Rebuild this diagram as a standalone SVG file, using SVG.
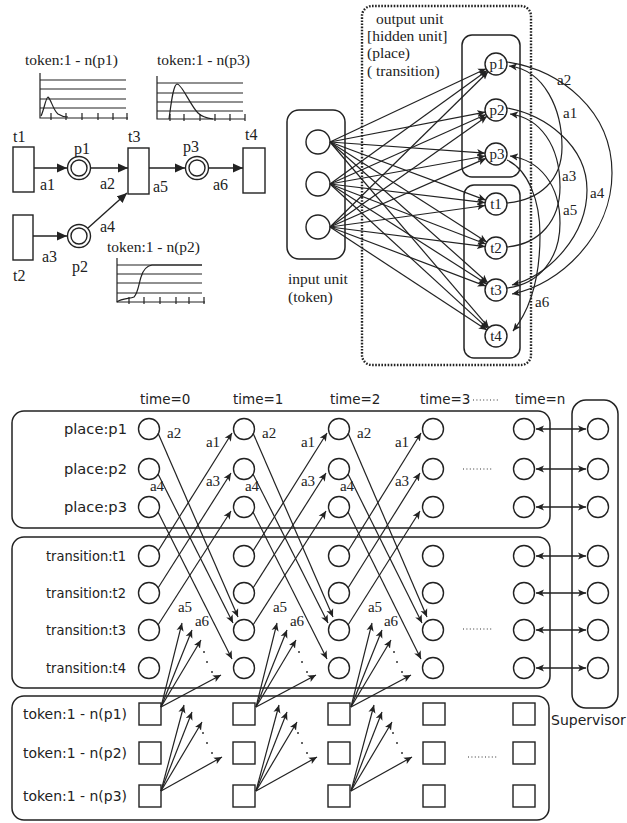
<svg xmlns="http://www.w3.org/2000/svg" width="627" height="823" viewBox="0 0 627 823">
<defs>
<style>
.ln{fill:none;stroke:#222;stroke-width:1.3}
.bx{fill:none;stroke:#222;stroke-width:1.5}
.nd{fill:#fff;stroke:#222;stroke-width:1.4}
.dt{fill:none;stroke:#222;stroke-width:2.4;stroke-dasharray:1.6 1.5}
.ld{fill:none;stroke:#333;stroke-width:1.2;stroke-dasharray:1 2.4}
.sf{font-family:"Liberation Serif","DejaVu Serif",serif;fill:#222}
.ss{font-family:"DejaVu Sans","Liberation Sans",sans-serif;fill:#222}
.ch{fill:none;stroke:#222;stroke-width:1.2}
.ar{fill:none;stroke:#222;stroke-width:1.2;marker-end:url(#ah)}
.arL{fill:none;stroke:#222;stroke-width:1.4;marker-end:url(#ahL)}
.ar2{fill:none;stroke:#222;stroke-width:1.3;marker-start:url(#ahS);marker-end:url(#ah)}
</style>
<marker id="ah" viewBox="0 0 10 10" refX="10" refY="5" markerWidth="8" markerHeight="8" markerUnits="userSpaceOnUse" orient="auto"><path d="M0,0.5 L10,5 L0,9.5 L2.5,5 z" fill="#222"/></marker>
<marker id="ahS" viewBox="0 0 10 10" refX="10" refY="5" markerWidth="8" markerHeight="8" markerUnits="userSpaceOnUse" orient="auto-start-reverse"><path d="M0,0.5 L10,5 L0,9.5 L2.5,5 z" fill="#222"/></marker>
<marker id="ahL" viewBox="0 0 10 10" refX="10" refY="5" markerWidth="10" markerHeight="10" markerUnits="userSpaceOnUse" orient="auto"><path d="M0,0.5 L10,5 L0,9.5 z" fill="#222"/></marker>
</defs>
<rect x="0" y="0" width="627" height="823" fill="#fff"/>

<!-- ===== Top-left: Petri net ===== -->
<g id="chart-p1">
<text class="sf" x="25" y="65" font-size="15.5">token:1 - n(p1)</text>
<path class="ch" d="M40,73 V118 H128 M40,80 H126 M40,89 H126 M40,99 H126 M40,108 H126 M51,113 V120 M66,113 V120 M82,113 V120 M98,113 V120 M113,113 V120 M127,113 V120"/>
<path class="ch" stroke-width="1.5" d="M41,116 C44,110 46,97 48,97 C51,99 53,110 58,114 C61,116 64,117 68,117"/>
</g>
<g id="chart-p3">
<text class="sf" x="157" y="65" font-size="15.5">token:1 - n(p3)</text>
<path class="ch" d="M157,76 V119 H245 M157,83 H243 M157,93 H243 M157,102 H243 M157,111 H243 M170,114 V121 M184,114 V121 M200,114 V121 M215,114 V121 M230,114 V121 M245,114 V121"/>
<path class="ch" stroke-width="1.5" d="M169,119 C171,105 173,85 177,84 C182,84 190,105 198,113 C202,117 206,118 213,119"/>
</g>
<g id="chart-p2">
<text class="sf" x="107" y="252" font-size="15.5">token:1 - n(p2)</text>
<path class="ch" d="M117,258 V302 H205 M117,265 H202 M117,274 H202 M117,283 H202 M117,293 H202 M129,297 V304 M144,297 V304 M160,297 V304 M176,297 V304 M189,297 V304 M204,297 V304"/>
<path class="ch" stroke-width="1.5" d="M117,302 C122,298 130,299 134,297 C138,293 139,283 141,277 C143,270 146,266 152,265 L202,265"/>
</g>
<g id="pn-t1"><text class="sf" x="13" y="142" font-size="16">t1</text><rect class="nd" x="13" y="147" width="21" height="45"/></g>
<g id="pn-p1"><text class="sf" x="74" y="154" font-size="16">p1</text><circle class="nd" cx="79" cy="168" r="11.5"/><circle class="nd" cx="79" cy="168" r="8"/></g>
<g id="pn-t3"><text class="sf" x="128" y="142" font-size="16">t3</text><rect class="nd" x="128" y="148" width="21" height="46"/></g>
<g id="pn-p3"><text class="sf" x="183" y="152" font-size="16">p3</text><circle class="nd" cx="197" cy="168" r="11.5"/><circle class="nd" cx="197" cy="168" r="8"/></g>
<g id="pn-t4"><text class="sf" x="245" y="140" font-size="16">t4</text><rect class="nd" x="243" y="148" width="22" height="45"/></g>
<g id="pn-t2"><rect class="nd" x="13" y="215" width="20" height="45"/><text class="sf" x="13" y="281" font-size="16">t2</text></g>
<g id="pn-p2"><circle class="nd" cx="79" cy="236" r="11.5"/><circle class="nd" cx="79" cy="236" r="8"/><text class="sf" x="72" y="272" font-size="16">p2</text></g>

<!-- ===== Top-right: neural network ===== -->
<g id="nn-output-unit">
<rect class="dt" x="362" y="6" width="169" height="359" rx="10"/>
<text class="sf" font-size="15.5"><tspan x="376" y="24">output unit</tspan><tspan x="367" y="41">[hidden unit]</tspan><tspan x="367" y="58">(place)</tspan><tspan x="367" y="76">( transition)</tspan></text>
</g>
<g id="nn-input-unit">
<rect class="bx" x="287" y="110" width="58" height="149" rx="12"/>
<circle class="nd" cx="318" cy="142" r="12"/>
<circle class="nd" cx="318" cy="184" r="12"/>
<circle class="nd" cx="318" cy="227" r="12"/>
<text class="sf" font-size="15.5"><tspan x="288" y="284">input unit</tspan><tspan x="288" y="302">(token)</tspan></text>
</g>
<g id="nn-places">
<rect class="bx" x="462" y="35" width="58" height="142" rx="10"/>
<g id="nn-p1"><circle class="nd" cx="496" cy="64" r="11"/><text class="sf" x="497" y="69" font-size="15" text-anchor="middle">p1</text></g>
<g id="nn-p2"><circle class="nd" cx="496" cy="110" r="11"/><text class="sf" x="497" y="115" font-size="15" text-anchor="middle">p2</text></g>
<g id="nn-p3"><circle class="nd" cx="496" cy="154" r="11"/><text class="sf" x="497" y="159" font-size="15" text-anchor="middle">p3</text></g>
</g>
<g id="nn-transitions">
<rect class="bx" x="464" y="185" width="56" height="173" rx="10"/>
<g id="nn-t1"><circle class="nd" cx="496" cy="204" r="11"/><text class="sf" x="496" y="209" font-size="15" text-anchor="middle">t1</text></g>
<g id="nn-t2"><circle class="nd" cx="496" cy="248" r="11"/><text class="sf" x="496" y="253" font-size="15" text-anchor="middle">t2</text></g>
<g id="nn-t3"><circle class="nd" cx="496" cy="290" r="11"/><text class="sf" x="496" y="295" font-size="15" text-anchor="middle">t3</text></g>
<g id="nn-t4"><circle class="nd" cx="496" cy="336" r="11"/><text class="sf" x="496" y="341" font-size="15" text-anchor="middle">t4</text></g>
</g>

<!-- ===== Bottom: unrolled network ===== -->
<g id="time-labels" class="ss" font-size="13.5">
<text x="140" y="404">time=0</text>
<text x="233" y="404">time=1</text>
<text x="330" y="404">time=2</text>
<text x="420" y="404">time=3</text>
<text x="515" y="404">time=n</text>
</g>
<path class="ld" d="M473,400 H500"/>
<g id="places-box">
<rect class="bx" x="12" y="411" width="538" height="117" rx="12"/>
<text class="ss" font-size="14" text-anchor="end" x="127" y="434" textLength="63" lengthAdjust="spacingAndGlyphs">place:p1</text>
<text class="ss" font-size="14" text-anchor="end" x="127" y="474" textLength="63" lengthAdjust="spacingAndGlyphs">place:p2</text>
<text class="ss" font-size="14" text-anchor="end" x="127" y="512" textLength="63" lengthAdjust="spacingAndGlyphs">place:p3</text>
</g>
<g id="transitions-box">
<rect class="bx" x="12" y="537" width="538" height="151" rx="12"/>
<text class="ss" font-size="14" text-anchor="end" x="126" y="561" textLength="80" lengthAdjust="spacingAndGlyphs">transition:t1</text>
<text class="ss" font-size="14" text-anchor="end" x="126" y="598" textLength="80" lengthAdjust="spacingAndGlyphs">transition:t2</text>
<text class="ss" font-size="14" text-anchor="end" x="126" y="635" textLength="80" lengthAdjust="spacingAndGlyphs">transition:t3</text>
<text class="ss" font-size="14" text-anchor="end" x="126" y="673" textLength="80" lengthAdjust="spacingAndGlyphs">transition:t4</text>
</g>
<g id="tokens-box">
<rect class="bx" x="12" y="696" width="537" height="124" rx="12"/>
<text class="ss" font-size="14" text-anchor="end" x="127" y="719" textLength="104" lengthAdjust="spacingAndGlyphs">token:1 - n(p1)</text>
<text class="ss" font-size="14" text-anchor="end" x="127" y="758" textLength="104" lengthAdjust="spacingAndGlyphs">token:1 - n(p2)</text>
<text class="ss" font-size="14" text-anchor="end" x="127" y="801" textLength="104" lengthAdjust="spacingAndGlyphs">token:1 - n(p3)</text>
</g>
<g id="supervisor">
<rect class="bx" x="572" y="400" width="46" height="308" rx="14"/>
<circle class="nd" cx="598" cy="429" r="10.5"/><circle class="nd" cx="598" cy="469" r="10.5"/><circle class="nd" cx="598" cy="507" r="10.5"/>
<circle class="nd" cx="598" cy="556" r="10.5"/><circle class="nd" cx="598" cy="593" r="10.5"/><circle class="nd" cx="598" cy="630" r="10.5"/><circle class="nd" cx="598" cy="668" r="10.5"/>
<text class="ss" x="551" y="725" font-size="14">Supervisor</text>
</g>
<g id="col-0">
<circle class="nd" cx="149" cy="429" r="10.5"/><circle class="nd" cx="149" cy="469" r="10.5"/><circle class="nd" cx="149" cy="507" r="10.5"/>
<circle class="nd" cx="149" cy="556" r="10.5"/><circle class="nd" cx="149" cy="593" r="10.5"/><circle class="nd" cx="149" cy="630" r="10.5"/><circle class="nd" cx="149" cy="668" r="10.5"/>
<rect class="nd" x="139" y="703" width="22" height="22"/><rect class="nd" x="139" y="742" width="22" height="22"/><rect class="nd" x="139" y="785" width="22" height="22"/>
</g>
<g id="col-1">
<circle class="nd" cx="244" cy="429" r="10.5"/><circle class="nd" cx="244" cy="469" r="10.5"/><circle class="nd" cx="244" cy="507" r="10.5"/>
<circle class="nd" cx="244" cy="556" r="10.5"/><circle class="nd" cx="244" cy="593" r="10.5"/><circle class="nd" cx="244" cy="630" r="10.5"/><circle class="nd" cx="244" cy="668" r="10.5"/>
<rect class="nd" x="233" y="703" width="22" height="22"/><rect class="nd" x="233" y="742" width="22" height="22"/><rect class="nd" x="233" y="785" width="22" height="22"/>
</g>
<g id="col-2">
<circle class="nd" cx="339" cy="429" r="10.5"/><circle class="nd" cx="339" cy="469" r="10.5"/><circle class="nd" cx="339" cy="507" r="10.5"/>
<circle class="nd" cx="339" cy="556" r="10.5"/><circle class="nd" cx="339" cy="593" r="10.5"/><circle class="nd" cx="339" cy="630" r="10.5"/><circle class="nd" cx="339" cy="668" r="10.5"/>
<rect class="nd" x="328" y="703" width="22" height="22"/><rect class="nd" x="328" y="742" width="22" height="22"/><rect class="nd" x="328" y="785" width="22" height="22"/>
</g>
<g id="col-3">
<circle class="nd" cx="433" cy="429" r="10.5"/><circle class="nd" cx="433" cy="469" r="10.5"/><circle class="nd" cx="433" cy="507" r="10.5"/>
<circle class="nd" cx="433" cy="556" r="10.5"/><circle class="nd" cx="433" cy="593" r="10.5"/><circle class="nd" cx="433" cy="630" r="10.5"/><circle class="nd" cx="433" cy="668" r="10.5"/>
<rect class="nd" x="423" y="703" width="22" height="22"/><rect class="nd" x="423" y="742" width="22" height="22"/><rect class="nd" x="423" y="785" width="22" height="22"/>
</g>
<g id="col-n">
<circle class="nd" cx="524" cy="429" r="10.5"/><circle class="nd" cx="524" cy="469" r="10.5"/><circle class="nd" cx="524" cy="507" r="10.5"/>
<circle class="nd" cx="524" cy="556" r="10.5"/><circle class="nd" cx="524" cy="593" r="10.5"/><circle class="nd" cx="524" cy="630" r="10.5"/><circle class="nd" cx="524" cy="668" r="10.5"/>
<rect class="nd" x="513" y="703" width="22" height="22"/><rect class="nd" x="513" y="742" width="22" height="22"/><rect class="nd" x="513" y="785" width="22" height="22"/>
</g>
<path class="ld" d="M463,469 H493 M463,629 H493 M468,757 H498"/>

<!-- ===== Connectors ===== -->
<g id="connectors">
<!-- Petri net arcs -->
<line class="arL" x1="34" y1="168" x2="67" y2="168"/>
<line class="arL" x1="91" y1="168" x2="128" y2="168"/>
<line class="arL" x1="149" y1="168" x2="185" y2="168"/>
<line class="arL" x1="209" y1="168" x2="243" y2="168"/>
<line class="arL" x1="33" y1="236" x2="67" y2="236"/>
<line class="arL" x1="88" y1="228" x2="127" y2="193"/>
<g class="sf" font-size="16">
<text x="40" y="190">a1</text><text x="100" y="189">a2</text><text x="42" y="262">a3</text><text x="100" y="232">a4</text><text x="153" y="192">a5</text><text x="213" y="190">a6</text>
</g>
<!-- NN input fan -->
<line class="ar" x1="330" y1="142" x2="486" y2="68.7"/>
<line class="ar" x1="330" y1="142" x2="485.2" y2="112.1"/>
<line class="ar" x1="330" y1="142" x2="485" y2="153.2"/>
<line class="ar" x1="330" y1="142" x2="485.7" y2="200.1"/>
<line class="ar" x1="330" y1="142" x2="486.7" y2="242.1"/>
<line class="ar" x1="330" y1="142" x2="487.8" y2="282.7"/>
<line class="ar" x1="330" y1="142" x2="488.8" y2="327.6"/>
<line class="ar" x1="330" y1="184" x2="487.1" y2="70.4"/>
<line class="ar" x1="330" y1="184" x2="486" y2="114.5"/>
<line class="ar" x1="330" y1="184" x2="485.2" y2="156"/>
<line class="ar" x1="330" y1="184" x2="485.1" y2="202.7"/>
<line class="ar" x1="330" y1="184" x2="485.7" y2="244"/>
<line class="ar" x1="330" y1="184" x2="486.7" y2="284.1"/>
<line class="ar" x1="330" y1="184" x2="487.9" y2="328.6"/>
<line class="ar" x1="330" y1="227" x2="488.1" y2="71.7"/>
<line class="ar" x1="330" y1="227" x2="487" y2="116.3"/>
<line class="ar" x1="330" y1="227" x2="485.9" y2="158.4"/>
<line class="ar" x1="330" y1="227" x2="485.1" y2="205.5"/>
<line class="ar" x1="330" y1="227" x2="485.1" y2="246.6"/>
<line class="ar" x1="330" y1="227" x2="485.7" y2="286.1"/>
<line class="ar" x1="330" y1="227" x2="486.8" y2="330"/>
<!-- NN recurrent arcs -->
<path class="ar" d="M507,62 C560,70 612,110 612,173 C612,235 560,285 512,294"/>
<path class="ar" d="M507,108 C545,115 587,145 587,190 C587,235 550,275 512,285"/>
<path class="ar" d="M507,203 C540,200 562,180 562,147 C562,110 545,70 509,66"/>
<path class="ar" d="M507,247 C540,244 560,220 560,187 C560,145 540,118 510,114"/>
<path class="ar" d="M507,288 C540,284 560,258 560,223 C560,185 540,160 510,156"/>
<path class="ar" d="M507,160 C528,170 540,200 540,235 C540,280 530,310 513,331"/>
<g class="sf" font-size="15">
<text x="557" y="85">a2</text><text x="563" y="118">a1</text><text x="562" y="181">a3</text><text x="590" y="198">a4</text><text x="563" y="215">a5</text><text x="535" y="307">a6</text>
</g>
<!-- unrolled: time 0 -> 1 -->
<line class="ar" x1="158" y1="433" x2="238" y2="617"/>
<line class="ar" x1="158" y1="474" x2="233" y2="623"/>
<line class="ar" x1="158" y1="512" x2="232" y2="659"/>
<line class="ar" x1="158" y1="551" x2="232" y2="433"/>
<line class="ar" x1="158" y1="588" x2="231" y2="473"/>
<line class="ar" x1="158" y1="625" x2="231" y2="511"/>
<!-- time 1 -> 2 -->
<line class="ar" x1="253" y1="433" x2="333" y2="617"/>
<line class="ar" x1="253" y1="474" x2="328" y2="623"/>
<line class="ar" x1="253" y1="512" x2="327" y2="659"/>
<line class="ar" x1="253" y1="551" x2="327" y2="433"/>
<line class="ar" x1="253" y1="588" x2="326" y2="473"/>
<line class="ar" x1="253" y1="625" x2="326" y2="511"/>
<!-- time 2 -> 3 -->
<line class="ar" x1="348" y1="433" x2="427" y2="617"/>
<line class="ar" x1="348" y1="474" x2="422" y2="623"/>
<line class="ar" x1="348" y1="512" x2="421" y2="659"/>
<line class="ar" x1="348" y1="551" x2="421" y2="433"/>
<line class="ar" x1="348" y1="588" x2="420" y2="473"/>
<line class="ar" x1="348" y1="625" x2="420" y2="511"/>
<g class="sf" font-size="15">
<text x="167" y="438">a2</text><text x="157" y="491" text-anchor="middle">a4</text><text x="185" y="612" text-anchor="middle">a5</text><text x="202" y="626" text-anchor="middle">a6</text><text x="213" y="447" text-anchor="middle">a1</text><text x="213" y="486" text-anchor="middle">a3</text>
<text x="262" y="438">a2</text><text x="252" y="491" text-anchor="middle">a4</text><text x="280" y="612" text-anchor="middle">a5</text><text x="297" y="626" text-anchor="middle">a6</text><text x="308" y="447" text-anchor="middle">a1</text><text x="308" y="486" text-anchor="middle">a3</text>
<text x="357" y="438">a2</text><text x="347" y="491" text-anchor="middle">a4</text><text x="375" y="612" text-anchor="middle">a5</text><text x="391" y="626" text-anchor="middle">a6</text><text x="402" y="447" text-anchor="middle">a1</text><text x="402" y="486" text-anchor="middle">a3</text>
</g>
<!-- token fans -->
<line class="ar" x1="161" y1="707" x2="182" y2="623"/>
<line class="ar" x1="161" y1="707" x2="192" y2="630"/>
<line class="ar" x1="161" y1="707" x2="201" y2="640"/>
<line class="ar" x1="161" y1="707" x2="221" y2="675"/>
<line class="ar" x1="161" y1="791" x2="184" y2="705"/>
<line class="ar" x1="161" y1="791" x2="192" y2="712"/>
<line class="ar" x1="161" y1="791" x2="202" y2="722"/>
<line class="ar" x1="161" y1="791" x2="222" y2="757"/>
<line class="ar" x1="256" y1="707" x2="277" y2="623"/>
<line class="ar" x1="256" y1="707" x2="287" y2="630"/>
<line class="ar" x1="256" y1="707" x2="296" y2="640"/>
<line class="ar" x1="256" y1="707" x2="316" y2="675"/>
<line class="ar" x1="256" y1="791" x2="279" y2="705"/>
<line class="ar" x1="256" y1="791" x2="287" y2="712"/>
<line class="ar" x1="256" y1="791" x2="297" y2="722"/>
<line class="ar" x1="256" y1="791" x2="317" y2="757"/>
<line class="ar" x1="351" y1="707" x2="372" y2="623"/>
<line class="ar" x1="351" y1="707" x2="382" y2="630"/>
<line class="ar" x1="351" y1="707" x2="391" y2="640"/>
<line class="ar" x1="351" y1="707" x2="411" y2="675"/>
<line class="ar" x1="351" y1="791" x2="374" y2="705"/>
<line class="ar" x1="351" y1="791" x2="382" y2="712"/>
<line class="ar" x1="351" y1="791" x2="392" y2="722"/>
<line class="ar" x1="351" y1="791" x2="412" y2="757"/>
<g fill="#333">
<circle cx="204" cy="652" r="1"/><circle cx="207" cy="662" r="1"/><circle cx="212" cy="672" r="1"/>
<circle cx="203" cy="733" r="1"/><circle cx="207" cy="743" r="1"/><circle cx="212" cy="753" r="1"/>
<circle cx="299" cy="652" r="1"/><circle cx="302" cy="662" r="1"/><circle cx="307" cy="672" r="1"/>
<circle cx="298" cy="733" r="1"/><circle cx="302" cy="743" r="1"/><circle cx="307" cy="753" r="1"/>
<circle cx="394" cy="652" r="1"/><circle cx="397" cy="662" r="1"/><circle cx="402" cy="672" r="1"/>
<circle cx="393" cy="733" r="1"/><circle cx="397" cy="743" r="1"/><circle cx="402" cy="753" r="1"/>
</g>
<!-- supervisor links -->
<line class="ar2" x1="536" y1="429" x2="586" y2="429"/>
<line class="ar2" x1="536" y1="469" x2="586" y2="469"/>
<line class="ar2" x1="536" y1="507" x2="586" y2="507"/>
<line class="ar2" x1="536" y1="556" x2="586" y2="556"/>
<line class="ar2" x1="536" y1="593" x2="586" y2="593"/>
<line class="ar2" x1="536" y1="630" x2="586" y2="630"/>
<line class="ar2" x1="536" y1="668" x2="586" y2="668"/>
</g>
</svg>
